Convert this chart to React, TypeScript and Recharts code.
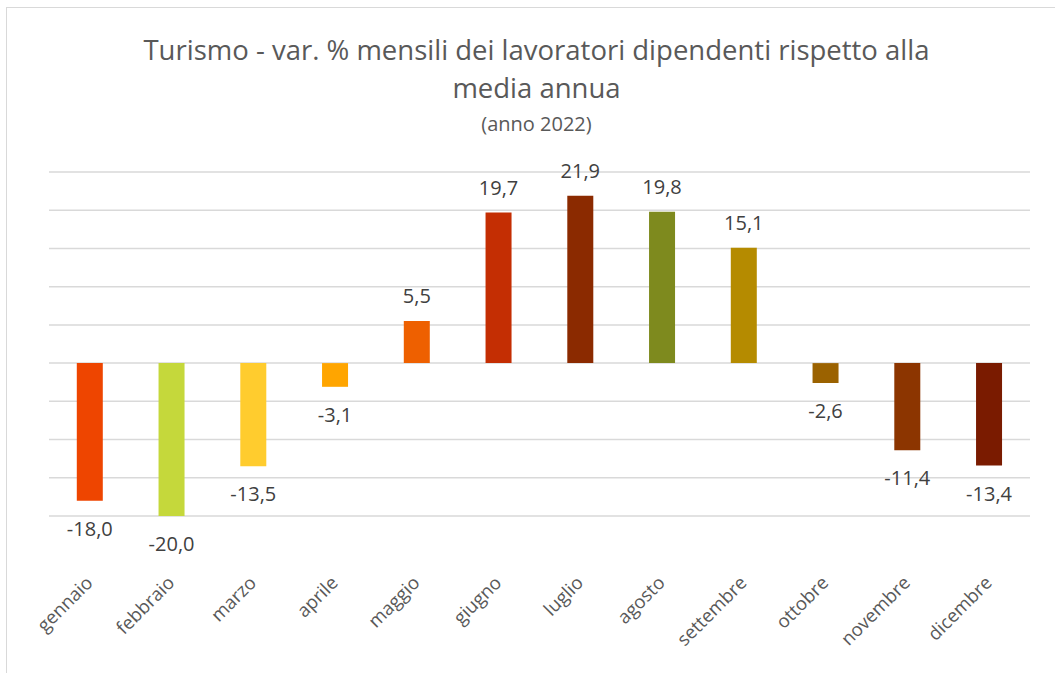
import React from "react";
import { BarChart, Bar, XAxis, YAxis, CartesianGrid, Cell, LabelList } from "recharts";

const months = [
  "gennaio", "febbraio", "marzo", "aprile", "maggio", "giugno",
  "luglio", "agosto", "settembre", "ottobre", "novembre", "dicembre"
];
const values = [-18.0, -20.0, -13.5, -3.1, 5.5, 19.7, 21.9, 19.8, 15.1, -2.6, -11.4, -13.4];
const colors = [
  "#EE4500", "#C5D83B", "#FFCC2E", "#FFA500", "#EE6000", "#C42E03",
  "#8B2A00", "#7E8A1E", "#B58B00", "#9B6200", "#8C3500", "#7A1B00"
];
const yTicks = [-20, -15, -10, -5, 0, 5, 10, 15, 20, 25];

const data = months.map((m, i) => ({ name: m, value: values[i] }));

const FONT = "'Open Sans', sans-serif";

const MonthTick = (props: any) => {
  const { x, y, payload } = props;
  return (
    <g transform={`translate(${x + 4},${y + 60})`}>
      <text
        textAnchor="end"
        transform="rotate(-45)"
        fill="#595959"
        fontSize={18.5}
        fontFamily={FONT}
      >
        {payload.value}
      </text>
    </g>
  );
};

const ValueLabel = (props: any) => {
  const { x, y, width, height, value } = props;
  const top = Math.min(y, y + height);
  const bottom = Math.max(y, y + height);
  const cx = x + width / 2;
  const ty = value >= 0 ? top - 18 : bottom + 35;
  return (
    <text x={cx} y={ty} textAnchor="middle" fill="#404040" fontSize={20} fontFamily={FONT}>
      {value.toFixed(1).replace(".", ",")}
    </text>
  );
};

export default function App() {
  return (
    <div style={{ position: "fixed", left: 0, top: 0, width: 1055, height: 673, background: "#fff" }}>
      <div
        style={{
          position: "absolute",
          left: 6,
          top: 7,
          width: 1060,
          height: 680,
          border: "1.5px solid #d9d9d9",
          boxSizing: "border-box"
        }}
      />
      <div
        style={{
          position: "absolute",
          left: 0,
          top: 31,
          width: 1073,
          textAlign: "center",
          fontFamily: FONT,
          color: "#595959"
        }}
      >
        <div style={{ fontSize: 27.5, lineHeight: "38px" }}>
          Turismo - var. % mensili dei lavoratori dipendenti rispetto alla
        </div>
        <div style={{ fontSize: 27.5, lineHeight: "38px" }}>media annua</div>
        <div style={{ fontSize: 20, lineHeight: "34px" }}>(anno 2022)</div>
      </div>
      <div style={{ position: "absolute", left: 0, top: 0 }}>
        <BarChart
          width={1055}
          height={673}
          data={data}
          margin={{ top: 172, right: 25, bottom: 127, left: 49 }}
          barCategoryGap="34%"
        >
          <CartesianGrid vertical={false} stroke="#d9d9d9" strokeWidth={1.5} />
          <YAxis hide domain={[-20, 25]} ticks={yTicks} />
          <XAxis
            dataKey="name"
            axisLine={false}
            tickLine={false}
            interval={0}
            tick={<MonthTick />}
          />
          <Bar dataKey="value" isAnimationActive={false}>
            {data.map((d, i) => (
              <Cell key={d.name} fill={colors[i]} />
            ))}
            <LabelList dataKey="value" content={<ValueLabel />} />
          </Bar>
        </BarChart>
      </div>
    </div>
  );
}
